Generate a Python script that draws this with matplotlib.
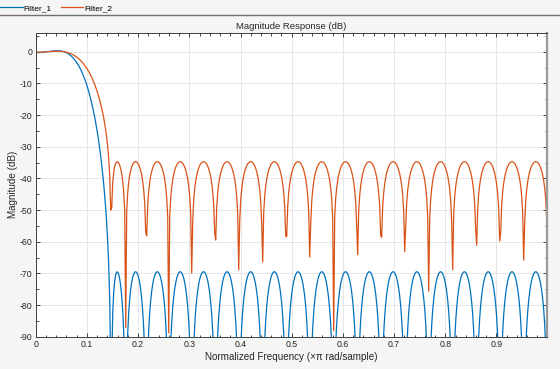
import numpy as np
import matplotlib
matplotlib.use("Agg")
import matplotlib.pyplot as plt
from matplotlib.lines import Line2D
from matplotlib.ticker import MultipleLocator

# filter specs (frequencies in x pi rad/sample)
# Filter_2 is one equiripple lowpass, Filter_1 is the same filter applied twice
filter_length = 44
passband_edge = 0.06
stopband_edge = 0.143
passband_weight = 1.0
n_points = 512
labels = ["Filter_1", "Filter_2"]
colors = ["#0072BD", "#D95319"]
x_ticks = [0, 0.1, 0.2, 0.3, 0.4, 0.5, 0.6, 0.7, 0.8, 0.9]
y_ticks = [0, -10, -20, -30, -40, -50, -60, -70, -80, -90]


def design_lowpass(L, fp, fs, wpass, n_iter=800):
    # equiripple type II FIR via Lawson iterations
    wp = np.linspace(0, fp * np.pi, 300)
    ws = np.linspace(fs * np.pi, np.pi, 1500)
    w = np.concatenate([wp, ws])
    d = np.concatenate([np.ones_like(wp), np.zeros_like(ws)])
    wt = np.concatenate([np.full_like(wp, wpass), np.ones_like(ws)])
    k = np.arange(1, L // 2 + 1) - 0.5
    C = np.cos(np.outer(w, k))
    v = np.ones_like(w) / len(w)
    for _ in range(n_iter):
        sw = np.sqrt(v) * wt
        b = np.linalg.lstsq(C * sw[:, None], d * sw, rcond=None)[0]
        e = np.abs(C @ b - d) * wt + 1e-12
        v = v * e
        v /= v.sum()
    half = b[::-1] / 2
    return np.concatenate([half, half[::-1]])


def mag_db(h, n):
    H = np.fft.fft(h, 2 * n)[:n]
    return 20 * np.log10(np.abs(H) + 1e-300)


h2 = design_lowpass(filter_length, passband_edge, stopband_edge, passband_weight)
f = np.arange(n_points) / n_points
db2 = mag_db(h2, n_points)
db1 = mag_db(np.convolve(h2, h2), n_points)

plt.rcParams["font.family"] = ["Liberation Sans", "DejaVu Sans"]
plt.rcParams["axes.unicode_minus"] = False
fig = plt.figure(figsize=(5.6, 3.69), dpi=100, facecolor="#f5f5f5")
ax = fig.add_axes([0.0638, 0.0875, 0.9124, 0.8239])
ax.plot(f, db1, color=colors[0], lw=0.9, label=labels[0])
ax.plot(f, db2, color=colors[1], lw=0.9, label=labels[1])
ax.set_xlim(0, f[-1])
ax.set_ylim(-90, 6)
ax.set_xticks(x_ticks)
ax.set_xticklabels([f"{t:g}" for t in x_ticks])
ax.set_yticks(y_ticks)
ax.xaxis.set_minor_locator(MultipleLocator(0.02))
ax.yaxis.set_minor_locator(MultipleLocator(5))
ax.tick_params(which="both", direction="in", top=True, right=True, labelsize=6.3,
               colors="#262626", width=0.6, pad=2.5)
ax.tick_params(which="major", length=3)
ax.tick_params(which="minor", length=1.8)
ax.grid(True, color="#e3e3e3", lw=0.6)
ax.set_axisbelow(True)
for s in ax.spines.values():
    s.set_color("#404040")
    s.set_linewidth(0.7)
ax.spines["right"].set_color("#999999")
ax.spines["right"].set_linewidth(1.6)
ax.set_title("Magnitude Response (dB)", fontsize=6.8, color="#262626", pad=3)
ax.set_xlabel("Normalized Frequency (\u00d7\u03c0 rad/sample)", fontsize=7.1, color="#262626", labelpad=2)
ax.set_ylabel("Magnitude (dB)", fontsize=7.1, color="#262626", labelpad=1)

# legend strip on top, MATLAB-style
fig.legend(loc="upper left", bbox_to_anchor=(-0.007, 1.0), ncol=2, frameon=False, borderpad=0.5,
           borderaxespad=0, fontsize=6.0, handlelength=2.7, handletextpad=0.1, columnspacing=1.1)
fig.add_artist(Line2D([0, 1], [0.959, 0.959], transform=fig.transFigure, color="#707070", lw=1.0))
fig.savefig("out.png", dpi=100, facecolor=fig.get_facecolor())
